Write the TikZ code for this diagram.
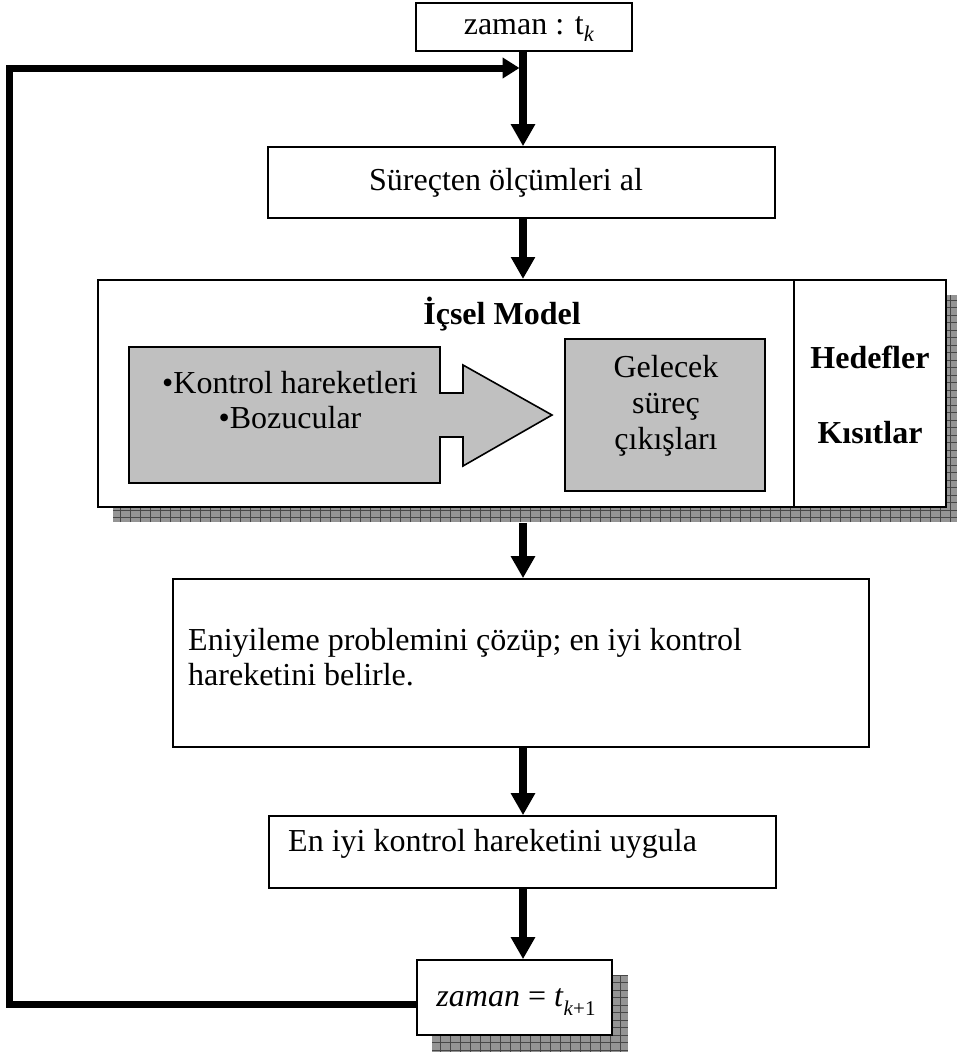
\documentclass[tikz,border=0pt]{standalone}
\usepackage{fontspec}
\setmainfont{Liberation Serif}
\usetikzlibrary{arrows.meta}
\definecolor{boxgray}{HTML}{C0C0C0}
\tikzset{
  flow/.style={line width=7.5pt, -{Triangle[width=23pt,length=22pt]}},
  feed/.style={line width=7pt, line join=miter, -{Triangle[width=20pt,length=17pt]}},
  box/.style={draw, line width=1.6pt, fill=white, inner sep=0pt},
  graybox/.style={draw, line width=1.6pt, fill=boxgray, inner sep=0pt},
  lbl/.style={inner sep=0pt, font=\fontsize{32}{35}\selectfont},
  blbl/.style={inner sep=0pt, font=\fontsize{32}{35}\selectfont\bfseries},
  hatchfill/.style={fill=black!42},
  hatchgrid/.style={draw=black!72, line width=0.7pt},
}
% hatched drop shadow: fill plus a fine grid, clipped to the rectangle
\newcommand\hatchshadow[2]{%
  \begin{scope}
    \clip #1 rectangle #2;
    \fill[hatchfill] #1 rectangle #2;
    \draw[hatchgrid, xstep=10pt, ystep=7.5pt] #1 grid #2;
  \end{scope}}
\begin{document}
\begin{tikzpicture}[x=1pt,y=-1pt]
\useasboundingbox (0,0) rectangle (957,1052);

% shadows behind the model box and the final time box
\hatchshadow{(113,295)}{(961,522)}
\hatchshadow{(432,975)}{(628,1052)}

% vertical axis of the flow
\coordinate (spine) at (523,0);

% boxes
\node[box, minimum width=216pt, minimum height=48pt] (tk) at (524,27) {};
\node[lbl] (tktext) at (529,29) {zaman : t\textsubscript{\itshape k}};

\node[box, minimum width=507pt, minimum height=71pt] (sur) at (521.5,182.5) {};
\node[lbl] (surtext) at (506,183) {Süreçten ölçümleri al};

\node[box, line width=2pt, minimum width=848pt, minimum height=227pt] (model) at (522,393.5) {};
\draw[line width=1.6pt] (794,280) -- (794,507);
\node[blbl] (modeltitle) at (502,314) {İçsel Model};

% block arrow holding the inputs
\draw[graybox] (129,347) -- (440,347) -- (440,393) -- (463,393) -- (463,365)
  -- (552,415) -- (463,466) -- (463,437) -- (440,437) -- (440,483)
  -- (129,483) -- cycle;
\node[lbl, align=center] (inputs) at (290,400)
  {\textbullet Kontrol hareketleri\\\textbullet Bozucular};

\node[graybox, minimum width=200pt, minimum height=152pt] (future) at (665,415) {};
\node[lbl, align=center, font=\fontsize{32}{36}\selectfont] (futuretext) at (666,406)
  {Gelecek\\süreç\\çıkışları};

\node[blbl] (goals) at (870,357) {Hedefler};
\node[blbl] (limits) at (870,433) {Kısıtlar};

\node[box, minimum width=696pt, minimum height=168pt] (eni) at (521,663) {};
\node[lbl, align=left, anchor=west] (enitext) at (188,657)
  {Eniyileme problemini çözüp; en iyi kontrol\\hareketini belirle.};

\node[box, minimum width=507pt, minimum height=72pt] (uyg) at (522.5,852) {};
\node[lbl, anchor=west] (uygtext) at (288,844) {En iyi kontrol hareketini uygula};

\node[box, minimum width=195pt, minimum height=75pt] (tk1) at (514.5,997.5) {};
\node[lbl] (tk1text) at (516,1002)
  {\textit{zaman} = \textit{t}\raisebox{-9pt}{\fontsize{21}{21}\selectfont\textit{k}+1}};

% main flow
\draw[flow] (spine |- tk.south) -- (spine |- sur.north);
\draw[flow] (spine |- sur.south) -- (spine |- model.north);
\draw[flow] ([yshift=-15pt]spine |- model.south) -- (spine |- eni.north);
\draw[flow] (spine |- eni.south) -- (spine |- uyg.north);
\draw[flow] (spine |- uyg.south) -- (spine |- tk1.north);

% feedback loop back to the start
\coordinate (corner) at (9,68);
\coordinate (fbin) at (519.5,68);
\draw[feed] ([yshift=-7pt]tk1.west) -| (corner) -- (fbin);
\end{tikzpicture}
\end{document}
